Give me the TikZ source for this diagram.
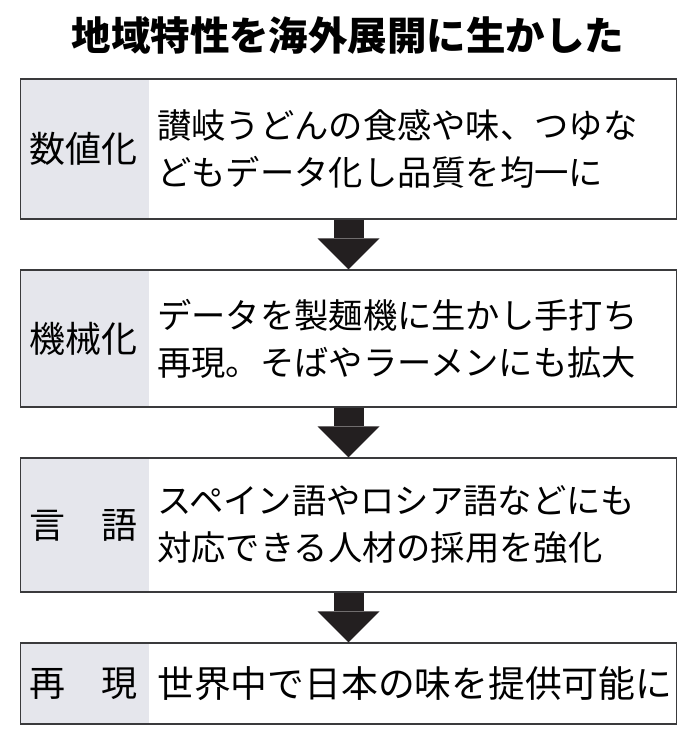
\documentclass[tikz,border=0pt]{standalone}
\usepackage{fontspec}
\setmainfont{Noto Sans CJK JP}
\usepackage{xcolor}
\usepackage{tikz}
\usetikzlibrary{arrows.meta,positioning}
\definecolor{boxline}{HTML}{3A3A3C}
\definecolor{tagfill}{HTML}{E5E6EC}
\definecolor{arrowfill}{HTML}{231F20}
\tikzset{
  title/.style={font=\fontsize{39.5}{44}\selectfont\bfseries, inner sep=0pt},
  stage/.style={draw=boxline, line width=1.5pt, fill=white, minimum width=656pt, inner sep=0pt,
    path picture={\fill[tagfill] (path picture bounding box.north west) rectangle ([xshift=128pt]path picture bounding box.south west);}},
  tag/.style={font=\fontsize{36}{40}\selectfont, inner sep=0pt},
  desc/.style={anchor=west, align=left, font=\fontsize{34.3}{47}\selectfont, inner sep=0pt},
  blockarrow/.style={line width=30pt, draw=arrowfill, -{Triangle[length=31pt, width=62pt, line width=0pt]}}
}
\begin{document}
\begin{tikzpicture}[x=1pt, y=-1pt]
  \useasboundingbox (0,0) rectangle (696,745);
  \node[title] (head) at (348,36) {地域特性を海外展開に生かした};

  \node[stage, minimum height=140pt] (num) at (348.5,149) {};
  \node[stage, minimum height=137pt] (mech) at (348.5,338.5) {};
  \node[stage, minimum height=134pt] (lang) at (348.5,525) {};
  \node[stage, minimum height=81pt] (repro) at (348.5,683.5) {};

  \node[tag] (numtag) at (84,149) {数値化};
  \node[tag] (mechtag) at (84,338.5) {機械化};
  \node[tag] (langtag) at (84,525) {言　語};
  \node[tag] (reprotag) at (84,683.5) {再　現};

  \node[desc] (numdesc) at (157,149) {讃岐うどんの食感や味、つゆな\\どもデータ化し品質を均一に};
  \node[desc] (mechdesc) at (157,338.5) {データを製麺機に生かし手打ち\\再現。そばやラーメンにも拡大};
  \node[desc] (langdesc) at (157,525) {スペイン語やロシア語などにも\\対応できる人材の採用を強化};
  \node[desc, font=\fontsize{36.8}{44}\selectfont] (reprodesc) at (157,683.5) {世界中で日本の味を提供可能に};

  \draw[blockarrow] (num.south) -- (mech.north);
  \draw[blockarrow] (mech.south) -- (lang.north);
  \draw[blockarrow] (lang.south) -- (repro.north);
\end{tikzpicture}
\end{document}
